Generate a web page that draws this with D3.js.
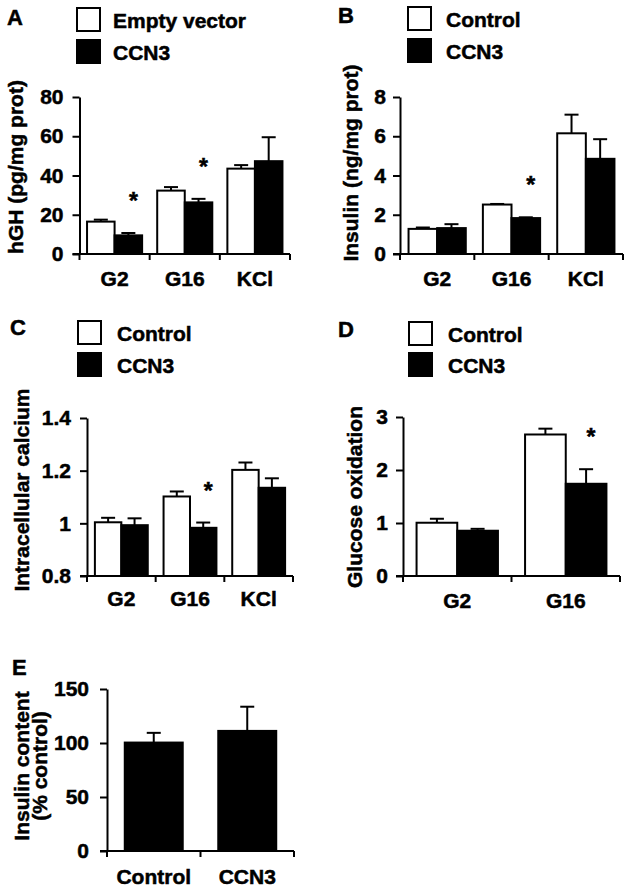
<!DOCTYPE html>
<html><head><meta charset="utf-8">
<script src="https://cdn.jsdelivr.net/npm/d3@7/dist/d3.min.js"></script>
<style>
body{margin:0;background:#fff;}
svg text{font-family:"Liberation Sans",Arial,Helvetica,sans-serif;font-weight:bold;fill:#000;stroke:#000;stroke-width:0.5px;}
</style></head><body>
<svg id="chart" width="630" height="891"></svg>
<script>
// ---------- DATA ----------
const stimCategories = ["G2", "G16", "KCl"];
const glucoseCategories = ["G2", "G16"];
const contentCategories = ["Control", "CCN3"];

// Panel A: hGH secretion
const hghSeriesNames = ["Empty vector", "CCN3"];
const hghEmpty = [16.5, 32.3, 43.5];
const hghEmptyErr = [1.0, 1.8, 1.8];
const hghCCN3 = [9.5, 26.3, 47.3];
const hghCCN3Err = [1.2, 1.8, 12.2];
const hghSignificant = [true, true, false];
const hghTicks = [0, 20, 40, 60, 80];

// Panel B: insulin secretion
const insSeriesNames = ["Control", "CCN3"];
const insControl = [1.28, 2.52, 6.15];
const insControlErr = [0.07, 0.03, 0.95];
const insCCN3 = [1.32, 1.83, 4.85];
const insCCN3Err = [0.2, 0.04, 1.0];
const insSignificant = [false, true, false];
const insTicks = [0, 2, 4, 6, 8];

// Panel C: intracellular calcium
const caSeriesNames = ["Control", "CCN3"];
const caControl = [1.004, 1.102, 1.203];
const caControlErr = [0.017, 0.019, 0.028];
const caCCN3 = [0.993, 0.983, 1.135];
const caCCN3Err = [0.026, 0.02, 0.036];
const caSignificant = [false, true, false];
const caTicks = [0.8, 1, 1.2, 1.4];

// Panel D: glucose oxidation
const oxSeriesNames = ["Control", "CCN3"];
const oxControl = [1.005, 2.67];
const oxControlErr = [0.075, 0.11];
const oxCCN3 = [0.854, 1.74];
const oxCCN3Err = [0.036, 0.275];
const oxSignificant = [false, true];
const oxTicks = [0, 1, 2, 3];

// Panel E: insulin content
const contentValues = [100.4, 111.2];
const contentErr = [9.0, 22.4];
const contentTicks = [0, 50, 100, 150];

// ---------- DRAWING ----------
const svg = d3.select("#chart");
const TICK_FONT = 21, LABEL_FONT = 21;
const FONT = '"Liberation Sans",Arial,Helvetica,sans-serif';

function drawPanel(cfg) {
  const g = svg.append("g");
  const y = d3.scaleLinear().domain(cfg.domain).range([cfg.bottom, cfg.top]);
  const x0 = d3.scaleBand().domain(cfg.categories).range([cfg.left, cfg.right]);
  const bw = x0.bandwidth();
  const gw = bw * cfg.groupFrac;
  const x1 = d3.scaleBand().domain(cfg.series.map(s => s.name)).range([0, gw]);

  const rows = cfg.categories.flatMap((c, i) => cfg.series.map(s => ({
    cat: c, name: s.name, value: s.values[i], err: s.err[i], fill: s.fill,
    sig: s.sig ? s.sig[i] : false
  })));
  const bx = d => x0(d.cat) + (bw - gw) / 2 + x1(d.name);
  const cx = d => bx(d) + x1.bandwidth() / 2;
  const base = cfg.domain[0];

  // bars
  g.selectAll("rect.bar").data(rows).join("rect").attr("class", "bar")
    .attr("x", bx).attr("width", x1.bandwidth())
    .attr("y", d => y(d.value)).attr("height", d => y(base) - y(d.value))
    .attr("fill", d => d.fill).attr("stroke", "#000").attr("stroke-width", 2);

  // error bars (upper)
  g.selectAll("line.errv").data(rows).join("line").attr("class", "errv")
    .attr("x1", cx).attr("x2", cx)
    .attr("y1", d => y(d.value)).attr("y2", d => y(d.value + d.err))
    .attr("stroke", "#000").attr("stroke-width", 2);
  g.selectAll("line.errc").data(rows).join("line").attr("class", "errc")
    .attr("x1", d => cx(d) - 7).attr("x2", d => cx(d) + 7)
    .attr("y1", d => y(d.value + d.err)).attr("y2", d => y(d.value + d.err))
    .attr("stroke", "#000").attr("stroke-width", 2);

  // significance stars
  g.selectAll("text.star").data(rows.filter(d => d.sig)).join("text").attr("class", "star")
    .attr("x", d => cx(d) + 5).attr("y", d => y(d.value + d.err) - 24)
    .attr("text-anchor", "middle").style("font-size", "23px").text("*");

  // y axis
  const ya = g.append("g").attr("transform", `translate(${cfg.left},0)`)
    .call(d3.axisLeft(y).tickValues(cfg.ticks).tickSize(7).tickSizeOuter(0).tickPadding(cfg.tickPad)
      .tickFormat(d3.format("~g")));
  ya.attr("font-family", FONT).attr("font-size", TICK_FONT).attr("font-weight", "bold");
  ya.select(".domain").attr("stroke-width", 2);
  ya.selectAll(".tick line").attr("stroke-width", 2);
  ya.selectAll(".tick text").attr("font-weight", "bold")
    .style("font-size", TICK_FONT + "px").style("font-family", FONT).style("font-weight", "bold");

  // x axis line + boundary ticks
  g.append("line").attr("x1", cfg.left - 7).attr("x2", cfg.right)
    .attr("y1", y(base)).attr("y2", y(base)).attr("stroke", "#000").attr("stroke-width", 2);
  const bounds = cfg.categories.map(c => x0(c)).concat([cfg.right]);
  g.selectAll("line.xt").data(bounds).join("line").attr("class", "xt")
    .attr("x1", d => d).attr("x2", d => d)
    .attr("y1", y(base)).attr("y2", y(base) + 6)
    .attr("stroke", "#000").attr("stroke-width", 2);
  g.selectAll("text.xl").data(cfg.categories).join("text").attr("class", "xl")
    .attr("x", d => x0(d) + bw / 2).attr("y", y(base) + cfg.xLabelOffset)
    .attr("text-anchor", "middle").style("font-size", LABEL_FONT + "px").text(d => d);

  // y label
  const yl = g.append("text")
    .attr("transform", `translate(${cfg.yLabel.x},${cfg.yLabel.y}) rotate(-90)`)
    .attr("text-anchor", "middle").style("font-size", LABEL_FONT + "px");
  cfg.yLabel.lines.forEach((t, i) => {
    yl.append("tspan").attr("x", 0).attr("y", i * cfg.yLabel.lineGap).text(t);
  });

  // panel letter
  g.append("text").attr("x", cfg.letter.x).attr("y", cfg.letter.y)
    .style("font-size", "22px").text(cfg.letter.t);

  // legend
  if (cfg.legend) {
    g.selectAll("rect.leg").data(cfg.series).join("rect").attr("class", "leg")
      .attr("x", cfg.legend.x).attr("y", (d, i) => cfg.legend.y + i * cfg.legend.gap)
      .attr("width", 23).attr("height", 23)
      .attr("fill", d => d.fill).attr("stroke", "#000").attr("stroke-width", 2);
    g.selectAll("text.leg").data(cfg.series).join("text").attr("class", "leg")
      .attr("x", cfg.legend.tx).attr("y", (d, i) => cfg.legend.y + i * cfg.legend.gap + 19.5)
      .style("font-size", LABEL_FONT + "px").text(d => d.name);
  }
}

drawPanel({
  left: 79.5, right: 290, top: 97, bottom: 254, domain: [0, 80], ticks: hghTicks, tickPad: 9,
  categories: stimCategories, groupFrac: 0.785, xLabelOffset: 32,
  series: [
    { name: hghSeriesNames[0], values: hghEmpty, err: hghEmptyErr, fill: "#fff" },
    { name: hghSeriesNames[1], values: hghCCN3, err: hghCCN3Err, fill: "#000", sig: hghSignificant }
  ],
  yLabel: { x: 23, y: 167, lines: ["hGH (pg/mg prot)"], lineGap: 0 },
  letter: { x: 7, y: 25, t: "A" },
  legend: { x: 77, y: 8, gap: 32, tx: 113 }
});

drawPanel({
  left: 400, right: 623, top: 97, bottom: 254, domain: [0, 8], ticks: insTicks, tickPad: 7,
  categories: stimCategories, groupFrac: 0.77, xLabelOffset: 32,
  series: [
    { name: insSeriesNames[0], values: insControl, err: insControlErr, fill: "#fff" },
    { name: insSeriesNames[1], values: insCCN3, err: insCCN3Err, fill: "#000", sig: insSignificant }
  ],
  yLabel: { x: 358, y: 163, lines: ["Insulin (ng/mg prot)"], lineGap: 0 },
  letter: { x: 338, y: 23, t: "B" },
  legend: { x: 408, y: 7, gap: 32, tx: 446 }
});

drawPanel({
  left: 87, right: 293, top: 418, bottom: 576, domain: [0.8, 1.4], ticks: caTicks, tickPad: 9,
  categories: stimCategories, groupFrac: 0.77, xLabelOffset: 30,
  series: [
    { name: caSeriesNames[0], values: caControl, err: caControlErr, fill: "#fff" },
    { name: caSeriesNames[1], values: caCCN3, err: caCCN3Err, fill: "#000", sig: caSignificant }
  ],
  yLabel: { x: 29, y: 490, lines: ["Intracellular calcium"], lineGap: 0 },
  letter: { x: 10, y: 335, t: "C" },
  legend: { x: 78, y: 321, gap: 32, tx: 117 }
});

drawPanel({
  left: 403, right: 620, top: 417, bottom: 576, domain: [0, 3], ticks: oxTicks, tickPad: 8,
  categories: glucoseCategories, groupFrac: 0.75, xLabelOffset: 32,
  series: [
    { name: oxSeriesNames[0], values: oxControl, err: oxControlErr, fill: "#fff" },
    { name: oxSeriesNames[1], values: oxCCN3, err: oxCCN3Err, fill: "#000", sig: oxSignificant }
  ],
  yLabel: { x: 362, y: 497, lines: ["Glucose oxidation"], lineGap: 0 },
  letter: { x: 338, y: 337, t: "D" },
  legend: { x: 409, y: 322, gap: 31, tx: 448 }
});

drawPanel({
  left: 107, right: 294, top: 689, bottom: 851, domain: [0, 150], ticks: contentTicks, tickPad: 11,
  categories: contentCategories, groupFrac: 0.62, xLabelOffset: 33,
  series: [
    { name: "Insulin content", values: contentValues, err: contentErr, fill: "#000" }
  ],
  yLabel: { x: 29, y: 766, lines: ["Insulin content", "(% control)"], lineGap: 18 },
  letter: { x: 12, y: 675, t: "E" }
});
</script>
</body></html>
